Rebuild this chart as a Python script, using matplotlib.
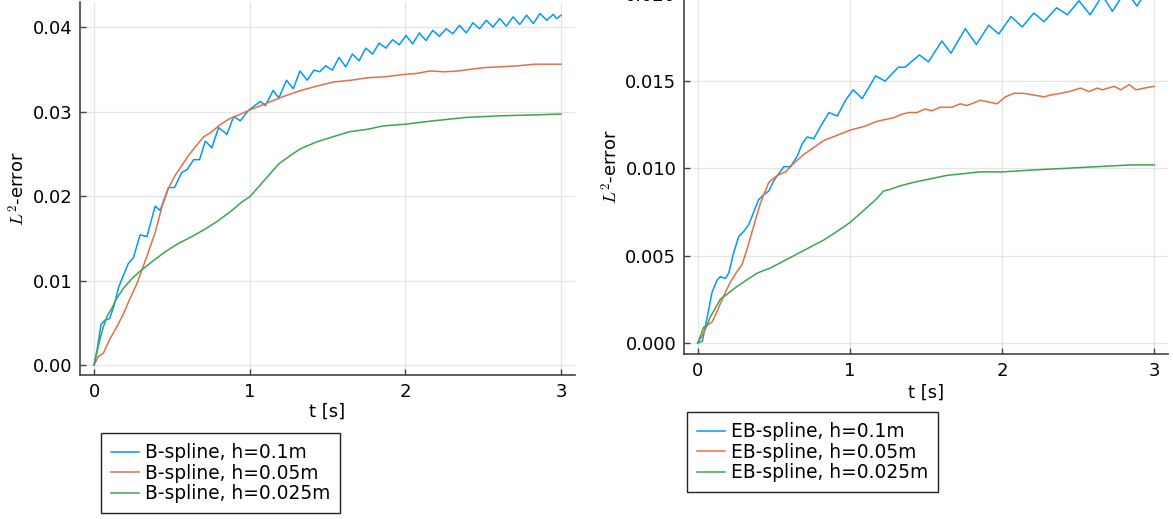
import numpy as np
import matplotlib
matplotlib.use("Agg")
import matplotlib.pyplot as plt
from matplotlib.ticker import FormatStrFormatter

plt.rcParams['font.family'] = ['DejaVu Sans']
plt.rcParams['mathtext.fontset'] = 'cm'

# ---------------- data (t [s], L2-error) ----------------
bspline_h01 = [
    (0.0, 0.0), (0.02, 0.0018), (0.045, 0.0048), (0.07, 0.0053), (0.10, 0.0055),
    (0.125, 0.0068), (0.16, 0.0093), (0.22, 0.0120), (0.253, 0.0127), (0.296, 0.0154),
    (0.34, 0.0152), (0.393, 0.0188), (0.425, 0.0183), (0.478, 0.0210), (0.517, 0.0210),
    (0.564, 0.0228), (0.597, 0.0231), (0.64, 0.0243), (0.678, 0.0243), (0.715, 0.0265),
    (0.757, 0.0257), (0.80, 0.0281), (0.854, 0.0273), (0.897, 0.0294), (0.94, 0.0289),
    (0.99, 0.0301), (1.069, 0.0312), (1.101, 0.0307), (1.151, 0.0325), (1.187, 0.0316),
    (1.237, 0.0337), (1.280, 0.0327), (1.323, 0.0348), (1.370, 0.0337), (1.413, 0.0349),
    (1.45, 0.0347), (1.488, 0.0354), (1.531, 0.0349), (1.574, 0.0364), (1.617, 0.0353),
    (1.660, 0.0368), (1.703, 0.0360), (1.746, 0.0375), (1.789, 0.0368), (1.832, 0.0381),
    (1.875, 0.0375), (1.918, 0.0385), (1.961, 0.0379), (2.004, 0.0390), (2.047, 0.0380),
    (2.090, 0.0393), (2.133, 0.0384), (2.176, 0.0396), (2.219, 0.0389), (2.262, 0.0398),
    (2.305, 0.0392), (2.348, 0.0402), (2.391, 0.0393), (2.434, 0.0405), (2.477, 0.0398),
    (2.520, 0.0408), (2.563, 0.0400), (2.606, 0.0410), (2.649, 0.0401), (2.692, 0.0412),
    (2.735, 0.0403), (2.779, 0.0414), (2.822, 0.0404), (2.865, 0.0416), (2.908, 0.0408),
    (2.951, 0.0415), (2.972, 0.0410), (3.0, 0.0414),
]
bspline_h005 = [
    (0.0, 0.0), (0.028, 0.0010), (0.06, 0.0014), (0.10, 0.0030), (0.146, 0.0045),
    (0.19, 0.0061), (0.232, 0.0079), (0.275, 0.0096), (0.307, 0.0112), (0.35, 0.0134),
    (0.393, 0.0157), (0.436, 0.0187), (0.478, 0.0209), (0.52, 0.0224), (0.564, 0.0236),
    (0.607, 0.0248), (0.65, 0.0258), (0.704, 0.0270), (0.757, 0.0276), (0.80, 0.0283),
    (0.865, 0.0291), (0.93, 0.0296), (0.99, 0.0301), (1.11, 0.0310), (1.22, 0.0318),
    (1.33, 0.0325), (1.43, 0.0330), (1.54, 0.0335), (1.65, 0.0337), (1.76, 0.0340),
    (1.86, 0.0341), (2.0, 0.0344), (2.07, 0.0345), (2.16, 0.0348), (2.25, 0.0347),
    (2.34, 0.0348), (2.42, 0.0350), (2.51, 0.0352), (2.62, 0.0353), (2.72, 0.0354),
    (2.83, 0.0356), (2.94, 0.0356), (3.0, 0.0356),
]
bspline_h0025 = [
    (0.0, 0.0), (0.017, 0.0014), (0.039, 0.0031), (0.06, 0.0045), (0.082, 0.0057),
    (0.114, 0.0067), (0.146, 0.0079), (0.19, 0.0091), (0.242, 0.0102), (0.296, 0.0111),
    (0.371, 0.0122), (0.457, 0.0134), (0.543, 0.0144), (0.629, 0.0152), (0.715, 0.0161),
    (0.80, 0.0171), (0.886, 0.0183), (0.95, 0.0193), (1.0, 0.0199), (1.058, 0.0211),
    (1.12, 0.0224), (1.187, 0.0238), (1.262, 0.0248), (1.327, 0.0256), (1.43, 0.0264),
    (1.533, 0.0270), (1.64, 0.0276), (1.757, 0.0279), (1.86, 0.0283), (2.0, 0.0285),
    (2.18, 0.0289), (2.39, 0.0293), (2.62, 0.0295), (2.83, 0.0296), (3.0, 0.0297),
]

ebspline_h01 = [
    (0.0, 0.0), (0.03, 0.0001), (0.061, 0.0014), (0.094, 0.0029), (0.127, 0.0036),
    (0.149, 0.0038), (0.182, 0.0037), (0.204, 0.0040), (0.237, 0.0052), (0.27, 0.0061),
    (0.303, 0.0064), (0.336, 0.0068), (0.368, 0.0075), (0.40, 0.0082), (0.434, 0.0085),
    (0.467, 0.0087), (0.50, 0.0093), (0.533, 0.0097), (0.566, 0.0101), (0.61, 0.0101),
    (0.654, 0.0107), (0.686, 0.0114), (0.719, 0.0118), (0.763, 0.0117), (0.807, 0.0124),
    (0.862, 0.0132), (0.917, 0.0130), (0.971, 0.0139), (1.022, 0.0145), (1.081, 0.0140),
    (1.169, 0.0153), (1.231, 0.0150), (1.319, 0.0158), (1.363, 0.0158), (1.457, 0.0165),
    (1.516, 0.0161), (1.604, 0.0173), (1.664, 0.0166), (1.758, 0.0180), (1.831, 0.0171),
    (1.912, 0.0182), (1.978, 0.0177), (2.059, 0.0187), (2.132, 0.0181), (2.209, 0.0189),
    (2.275, 0.0184), (2.358, 0.0192), (2.429, 0.0188), (2.505, 0.0196), (2.578, 0.0188),
    (2.659, 0.0199), (2.725, 0.0190), (2.813, 0.0202), (2.886, 0.0193), (2.967, 0.0204),
    (3.0, 0.0202),
]
ebspline_h005 = [
    (0.0, 0.0), (0.029, 0.0004), (0.061, 0.0010), (0.094, 0.0012), (0.127, 0.0018),
    (0.171, 0.0027), (0.215, 0.0035), (0.259, 0.0041), (0.292, 0.0045), (0.325, 0.0054),
    (0.368, 0.0067), (0.412, 0.0080), (0.467, 0.0092), (0.522, 0.0096), (0.577, 0.0098),
    (0.632, 0.0103), (0.697, 0.0108), (0.763, 0.0112), (0.829, 0.0116), (0.917, 0.0119),
    (1.004, 0.0122), (1.092, 0.0124), (1.18, 0.0127), (1.286, 0.0129), (1.341, 0.0131),
    (1.385, 0.0132), (1.440, 0.0132), (1.495, 0.0134), (1.538, 0.0133), (1.593, 0.0135),
    (1.670, 0.0135), (1.725, 0.0137), (1.769, 0.0136), (1.857, 0.0139), (1.912, 0.0138),
    (1.967, 0.0137), (2.022, 0.0141), (2.077, 0.0143), (2.143, 0.0143), (2.209, 0.0142),
    (2.275, 0.0141), (2.319, 0.0142), (2.385, 0.0143), (2.44, 0.0144), (2.516, 0.0146),
    (2.571, 0.0144), (2.626, 0.0146), (2.659, 0.0145), (2.736, 0.0147), (2.780, 0.0145),
    (2.835, 0.0148), (2.879, 0.0145), (2.934, 0.0146), (3.0, 0.0147),
]
ebspline_h0025 = [
    (0.0, 0.0), (0.018, 0.0004), (0.039, 0.0009), (0.061, 0.0010), (0.083, 0.0015),
    (0.116, 0.0020), (0.149, 0.0025), (0.193, 0.0028), (0.237, 0.0031), (0.303, 0.0035),
    (0.39, 0.0040), (0.478, 0.0043), (0.566, 0.0047), (0.654, 0.0051), (0.741, 0.0055),
    (0.829, 0.0059), (0.917, 0.0064), (1.0, 0.0069), (1.092, 0.0076), (1.18, 0.0083),
    (1.22, 0.0087), (1.264, 0.0088), (1.330, 0.0090), (1.418, 0.0092), (1.527, 0.0094),
    (1.637, 0.0096), (1.747, 0.0097), (1.857, 0.0098), (2.0, 0.0098), (2.187, 0.0099),
    (2.407, 0.0100), (2.626, 0.0101), (2.846, 0.0102), (3.0, 0.0102),
]

left_labels = ["B-spline, h=0.1m", "B-spline, h=0.05m", "B-spline, h=0.025m"]
right_labels = ["EB-spline, h=0.1m", "EB-spline, h=0.05m", "EB-spline, h=0.025m"]
colors = ["#009AFA", "#E36F47", "#3EA44E"]
left_yticks = [0.00, 0.01, 0.02, 0.03, 0.04]
right_yticks = [0.000, 0.005, 0.010, 0.015, 0.020]
xticks = [0, 1, 2, 3]

# ---------------- figure ----------------
W, H = 1173, 519
fig = plt.figure(figsize=(W / 100, H / 100), dpi=100)


def px_axes(x0, y0, x1, y1):
    return fig.add_axes([x0 / W, 1 - y1 / H, (x1 - x0) / W, (y1 - y0) / H])


ax1 = px_axes(80, 2, 575, 375)
ax2 = px_axes(684, -25.4, 1168, 354)


def style(ax, yticks, fmt, ylim):
    ax.set_xlim(-0.09, 3.09)
    ax.set_ylim(*ylim)
    ax.set_xticks(xticks)
    ax.set_yticks(yticks)
    ax.yaxis.set_major_formatter(FormatStrFormatter(fmt))
    ax.grid(True, color="#e4e4e4", lw=0.9)
    ax.set_axisbelow(True)
    for s in ["top", "right"]:
        ax.spines[s].set_visible(False)
    for s in ["left", "bottom"]:
        ax.spines[s].set_color("#444444")
        ax.spines[s].set_linewidth(1.2)
    ax.tick_params(direction="in", length=4, width=1, color="#444444",
                   labelsize=13, pad=5.5)


for ax, series, labels in [
    (ax1, [bspline_h01, bspline_h005, bspline_h0025], left_labels),
    (ax2, [ebspline_h01, ebspline_h005, ebspline_h0025], right_labels),
]:
    for data, c, lab in zip(series, colors, labels):
        t, e = zip(*data)
        ax.plot(t, e, color=c, lw=1.1, label=lab)

style(ax1, left_yticks, "%.2f", (-0.00118, 0.04296))
style(ax2, right_yticks, "%.3f", (-0.00063, 0.0211))

for ax, xl_y, yl_x, yl_y in [(ax1, -0.099, -0.124, 0.5), (ax2, -0.103, -0.151, 0.493)]:
    ax.set_xlabel("t [s]", fontsize=13)
    ax.xaxis.set_label_coords(0.5, xl_y)
    ax.xaxis.label.set_va("center")
    ax.set_ylabel(r"$L^2$-error", fontsize=13)
    ax.yaxis.set_label_coords(yl_x, yl_y)
    ax.yaxis.label.set_va("center")

leg_kw = dict(loc="upper left", bbox_transform=fig.transFigure, borderaxespad=0,
              fontsize=13.4, frameon=True, fancybox=False, framealpha=1,
              edgecolor="#222222", handlelength=1.5, handletextpad=0.3,
              labelspacing=0.08, borderpad=0.55)
l1 = ax1.legend(bbox_to_anchor=(101 / W, 1 - 433 / H), **leg_kw)
l2 = ax2.legend(bbox_to_anchor=(687 / W, 1 - 412 / H), **leg_kw)
for l in (l1, l2):
    l.get_frame().set_linewidth(1.0)

fig.savefig("out.png", dpi=100)
